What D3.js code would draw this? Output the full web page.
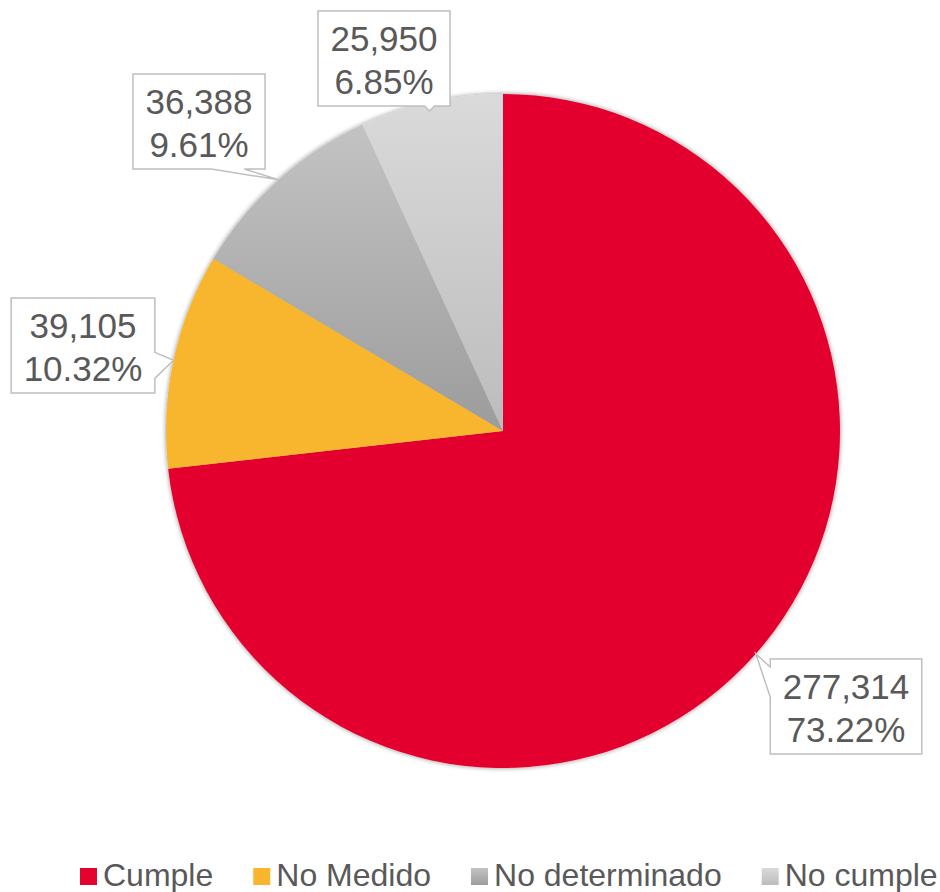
<!DOCTYPE html>
<html>
<head>
<meta charset="utf-8">
<title>pie</title>
<script src="https://cdn.jsdelivr.net/npm/d3@7"></script>
<style>
  body { margin: 0; background: #fff; }
  text { font-family: "Liberation Sans", Arial, sans-serif; fill: #595959; }
</style>
</head>
<body>
<svg id="chart" width="940" height="892"></svg>
<script>
// data
var categories = ["Cumple", "No Medido", "No determinado", "No cumple"];
var values = [277314, 39105, 36388, 25950];
var percents = ["73.22%", "10.32%", "9.61%", "6.85%"];

// look
var colorTop = ["#e4032e", "#f8b52d", "#c3c3c3", "#dadada"];
var colorBottom = ["#e4032e", "#f8b52d", "#9c9c9c", "#bcbcbc"];

// hand placed label boxes (centres), pointer angle on the rim and the side the pointer leaves from
var labelCentre = [[846, 707], [83, 346], [199, 122], [384, 59]];
var tipAngle = [131.4, 282.1, 318.2, 347.4];
var tipSide = ["left", "right", "bottom", "bottom"];

var width = 940, height = 892;
var cx = 503, cy = 431, radius = 337;

var svg = d3.select("#chart");
var defs = svg.append("defs");

// soft glow under the pie
var f = defs.append("filter").attr("id", "shadow")
  .attr("x", "-10%").attr("y", "-10%").attr("width", "120%").attr("height", "120%");
f.append("feGaussianBlur").attr("in", "SourceAlpha").attr("stdDeviation", 2.5).attr("result", "b");
f.append("feComponentTransfer").attr("in", "b").attr("result", "c")
  .append("feFuncA").attr("type", "linear").attr("slope", 0.45);
var m = f.append("feMerge");
m.append("feMergeNode").attr("in", "c");
m.append("feMergeNode").attr("in", "SourceGraphic");

categories.forEach(function(c, i) {
  var g = defs.append("linearGradient").attr("id", "grad" + i)
    .attr("x1", 0).attr("y1", 0).attr("x2", 0).attr("y2", 1);
  g.append("stop").attr("offset", "0%").attr("stop-color", colorTop[i]);
  g.append("stop").attr("offset", "100%").attr("stop-color", colorBottom[i]);
});

var pie = d3.pie().sort(null).value(function(d) { return d; });
var arcs = pie(values);
var arc = d3.arc().innerRadius(0).outerRadius(radius);

var pieG = svg.append("g")
  .attr("transform", "translate(" + cx + "," + cy + ")")
  .attr("filter", "url(#shadow)");

pieG.selectAll("path").data(arcs).enter()
  .append("path")
  .attr("d", arc)
  .attr("fill", function(d, i) { return "url(#grad" + i + ")"; });

// data labels with callout boxes
var labels = svg.append("g");

arcs.forEach(function(a, i) {
  var bx = labelCentre[i][0], by = labelCentre[i][1];
  var g = labels.append("g");

  var t1 = g.append("text").attr("x", bx).attr("y", by - 8)
    .attr("text-anchor", "middle").style("font-size", "35px")
    .text(d3.format(",")(values[i]));
  var t2 = g.append("text").attr("x", bx).attr("y", by + 35)
    .attr("text-anchor", "middle").style("font-size", "35px")
    .text(percents[i]);

  var w = Math.max(t1.node().getComputedTextLength(), t2.node().getComputedTextLength()) + 25;
  var h = 95;
  var x0 = bx - w / 2, x1 = bx + w / 2, y0 = by - h / 2 - 0.5, y1 = by + h / 2 - 0.5;

  var tp = d3.pointRadial(tipAngle[i] * Math.PI / 180, radius);
  var tx = cx + tp[0], ty = cy + tp[1];
  var side = tipSide[i];

  var p = d3.path();
  p.moveTo(x0, y0);
  p.lineTo(x1, y0);
  if (side == "right") {
    p.lineTo(x1, ty - 8); p.lineTo(tx, ty); p.lineTo(x1, ty + 18);
  }
  p.lineTo(x1, y1);
  if (side == "bottom") {
    if (ty < y1 + 5) {
      // tiny pointer, box sits on the rim
      p.lineTo(tx + 5, y1); p.lineTo(tx, y1 + 5); p.lineTo(tx - 5, y1);
    } else {
      p.lineTo(tx - 34, y1); p.lineTo(tx, ty); p.lineTo(tx - 67, y1);
    }
  }
  p.lineTo(x0, y1);
  if (side == "left") {
    p.lineTo(x0, y0 + 38); p.lineTo(tx, ty); p.lineTo(x0, y0 + 8);
  }
  p.closePath();

  g.insert("path", "text").attr("d", p.toString())
    .attr("fill", "#fff").attr("stroke", "#bfbfbf").attr("stroke-width", 1.5);
});

// legend
var legend = svg.append("g").attr("transform", "translate(80,886)");
var items = legend.selectAll("g").data(categories).enter().append("g");
items.append("rect")
  .attr("width", 17).attr("height", 17).attr("y", -18)
  .attr("fill", function(d, i) { return "url(#grad" + i + ")"; });
items.append("text")
  .attr("x", 23).attr("y", 0)
  .style("font-size", "32px")
  .text(function(d) { return d; });

var xpos = 0;
var widths = [];
items.each(function() {
  widths.push(d3.select(this).select("text").node().getComputedTextLength() + 23);
});
items.attr("transform", function(d, i) {
  var x = xpos;
  xpos += widths[i] + 40;
  return "translate(" + x + ",0)";
});
</script>
</body>
</html>
